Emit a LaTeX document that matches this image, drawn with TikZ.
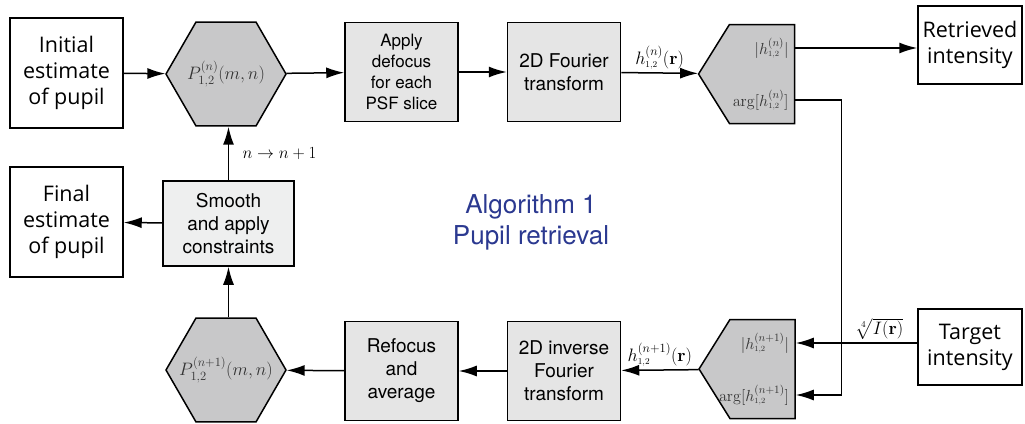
\RequirePackage{fix-cm}
\documentclass[tikz,border=0pt]{standalone}
\usepackage{amsmath}
\usepackage[no-math]{fontspec}
\setmainfont{TeX Gyre Heros}
\newfontfamily\myriad{Open Sans}
\usetikzlibrary{arrows.meta,shapes.geometric,shapes.symbols,calc}

\definecolor{boxgray}{RGB}{229,229,229}
\definecolor{palegray}{RGB}{238,239,239}
\definecolor{hexgray}{RGB}{200,200,201}
\definecolor{algblue}{RGB}{43,57,144}

\tikzset{
  whitebox/.style={draw, fill=white, minimum width=113pt, minimum height=110pt,
    align=center, font=\myriad\fontsize{21.5}{26}\selectfont},
  graybox/.style={draw, fill=boxgray, minimum width=113pt, minimum height=99pt,
    align=center, font=\fontsize{19}{23}\selectfont},
  hexa/.style={draw, fill=hexgray, regular polygon, regular polygon sides=6,
    minimum size=120pt, inner sep=0pt},
  hexlabel/.style={inner sep=0pt, text=black!80, font=\fontsize{18}{20}\selectfont},
  pointer/.style={draw, fill=hexgray, signal, signal to=west, signal pointer angle=116,
    minimum width=96pt, minimum height=99pt, inner sep=0pt},
  inlabel/.style={anchor=east, inner sep=0pt, text=black!80, font=\fontsize{16}{18}\selectfont},
  arrlabel/.style={above, inner sep=3pt, font=\fontsize{18}{20}\selectfont}
}

\begin{document}
\begin{tikzpicture}[x=1pt, y=-1pt, line width=1.5pt, >={Latex[length=18pt,width=11pt]}]
  \useasboundingbox (0,0) rectangle (1025,423);
  % top row
  \node[whitebox] (init) at (66.5,73) {Initial\\estimate\\of pupil};
  \node[hexa, label={[hexlabel]center:$P^{(n)}_{1,2}(m,n)$}] (ptop) at (226,74) {};
  \node[graybox, font=\fontsize{17}{21}\selectfont] (defoc) at (401.5,72) {Apply\\defocus\\for each\\PSF slice};
  \node[graybox] (ft) at (564,72) {2D Fourier\\transform};
  \node[pointer] (htop) at (762,74) {};
  \node[inlabel] (mtop) at ($(htop.east)+(-6,-26)$) {$|h^{(n)}_{\scriptscriptstyle 1,2}|$};
  \node[inlabel] (atop) at ($(htop.east)+(-6,26)$) {$\arg[h^{(n)}_{\scriptscriptstyle 1,2}]$};
  \node[whitebox, minimum width=104pt, minimum height=78pt] (ret) at (970,45) {Retrieved\\intensity};
  % middle
  \node[whitebox] (final) at (66.5,222) {Final\\estimate\\of pupil};
  \node[graybox, fill=palegray, minimum width=131pt, minimum height=85pt] (smooth) at (228.5,223.5) {Smooth\\and apply\\constraints};
  \node[align=center, text=algblue, font=\fontsize{26}{31}\selectfont] (alg) at (531,222) {Algorithm 1\\Pupil retrieval};
  % bottom row
  \node[hexa, label={[hexlabel]center:$P^{(n+1)}_{1,2}(m,n)$}] (pbot) at (226,370) {};
  \node[graybox] (refoc) at (401.5,371) {Refocus\\and\\average};
  \node[graybox] (ift) at (564,371) {2D inverse\\Fourier\\transform};
  \node[pointer] (hbot) at (762.5,369) {};
  \node[inlabel] (mbot) at ($(hbot.east)+(-6,-26)$) {$|h^{(n+1)}_{\scriptscriptstyle 1,2}|$};
  \node[inlabel] (abot) at ($(hbot.east)+(-6,26)$) {$\arg[h^{(n+1)}_{\scriptscriptstyle 1,2}]$};
  \node[whitebox, minimum width=104pt, minimum height=76pt] (tgt) at (970,347) {Target\\intensity};

  \coordinate (omag) at ($(htop.east)+(0,-26)$);
  \coordinate (oarg) at ($(htop.east)+(0,26)$);
  \coordinate (imag) at ($(hbot.east)+(0,-26)$);
  \coordinate (iarg) at ($(hbot.east)+(0,26)$);

  % connectors
  \draw[->] (init) -- (ptop);
  \draw[->] (ptop) -- (defoc);
  \draw[->] (defoc) -- (ft);
  \draw[->] (ft) -- node[arrlabel] {$h^{(n)}_{\scriptscriptstyle 1,2}(\mathbf{r})$} (htop);
  \draw[->] (omag) -- (omag -| ret.west);
  \draw[->] (oarg) -- ++(46,0) |- (iarg);
  \draw[->] (imag -| tgt.west) -- node[arrlabel, pos=0.31] {$\sqrt[4]{I(\mathbf{r})}$} (imag);
  \draw[->] (hbot) -- node[arrlabel] {$h^{(n+1)}_{\scriptscriptstyle 1,2}(\mathbf{r})$} (ift);
  \draw[->] (ift) -- (refoc);
  \draw[->] (refoc) -- (pbot);
  \draw[->] (pbot.north -| smooth.south) -- (smooth.south);
  \draw[->] (smooth.north) -- node[right, xshift=10pt, font=\fontsize{17}{20}\selectfont] {$n\rightarrow n+1$} (smooth.north |- ptop.south);
  \draw[->] (smooth) -- (final);
\end{tikzpicture}
\end{document}
